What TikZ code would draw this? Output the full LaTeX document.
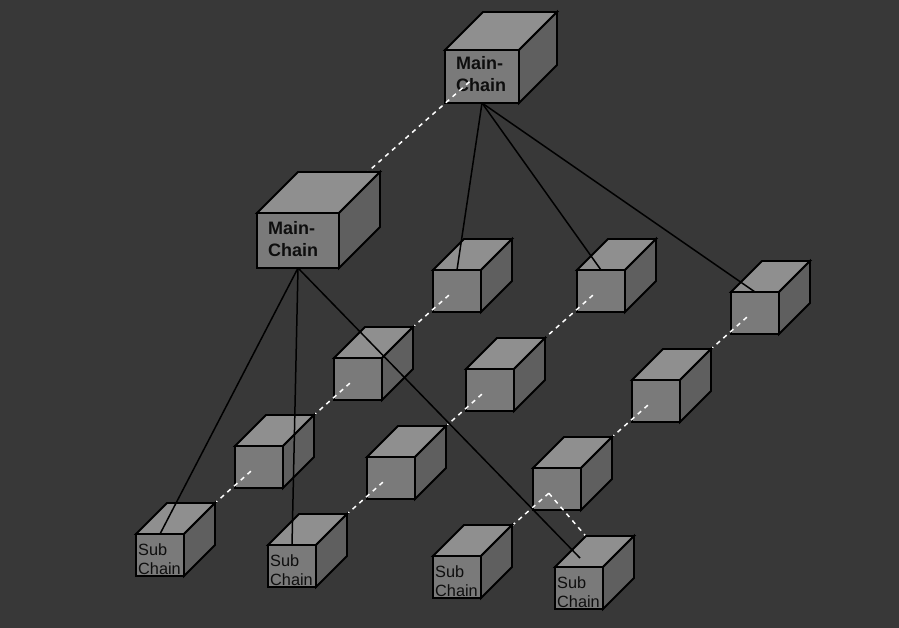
\documentclass[tikz,border=0pt]{standalone}
\usepackage{fontspec}
\setmainfont{Liberation Sans}
\usetikzlibrary{calc}
\definecolor{bgcol}{HTML}{383838}
\definecolor{frontcol}{HTML}{7A7A7A}
\definecolor{topcol}{HTML}{8F8F8F}
\definecolor{sidecol}{HTML}{5F5F5F}
\definecolor{inkcol}{HTML}{0E0E0E}
\tikzset{
  edge/.style={draw=black, line width=1.8pt, line join=miter},
  frontface/.style={edge, fill=frontcol, inner sep=0pt, outer sep=0pt, anchor=north west},
  topface/.style={edge, fill=topcol},
  sideface/.style={edge, fill=sidecol},
  mainlabel/.style={font=\fontsize{18}{22}\selectfont\bfseries, text=inkcol, align=left, inner sep=0pt, anchor=north west},
  sublabel/.style={font=\fontsize{16.3}{19}\selectfont, text=inkcol, align=left, inner sep=0pt, anchor=north west},
  chainlink/.style={draw=white, line width=1.5pt, dash pattern=on 4.5pt off 4.5pt},
  feed/.style={draw=black, line width=1.5pt},
  pics/cube/.style n args={3}{code={
    \path[topface] (0,0) -- (#3,-#3) -- (#1+#3,-#3) -- (#1,0) -- cycle;
    \path[sideface] (#1,0) -- (#1+#3,-#3) -- (#1+#3,#2-#3) -- (#1,#2) -- cycle;
    \node[frontface, minimum width=#1pt, minimum height=#2pt] (-front) at (0,0) {};
  }}
}
\begin{document}
\begin{tikzpicture}[x=1pt, y=-1pt]
\fill[bgcol] (0,0) rectangle (899,628);
\useasboundingbox (0,0) rectangle (899,628);
% points where the dashed chain lines leave each block
\foreach \n/\x/\y/\w/\h in {M1/445/50/74/53, M2/257/213/82/55,
    A1/433/270/48/42, A2/577/270/48/42, A3/731/292/48/42,
    B1/334/358/48/42, B2/466/369/48/42, B3/632/380/48/42,
    C1/235/446/48/42, C2/367/457/48/42, C3/533/468/48/42,
    D1/136/534/48/42, D2/268/545/48/42, D3/433/556/48/42, D4/555/567/48/42}
  \coordinate (\n-dot) at (\x+0.33*\w, \y+0.6*\h);
\coordinate (D4-in) at (590,541);

% main chain
\pic (M1) at (445,50) {cube={74}{53}{38}};
\node[mainlabel] (M1-text) at ([shift={(11,6.5)}]M1-front.north west) {Main-\\Chain};
\draw[chainlink] (M1-dot) -- (M2-dot);
\pic (M2) at (257,213) {cube={82}{55}{41}};
\node[mainlabel] (M2-text) at ([shift={(11,8)}]M2-front.north west) {Main-\\Chain};

% first row of blocks
\pic (A1) at (433,270) {cube={48}{42}{31}};
\pic (A2) at (577,270) {cube={48}{42}{31}};
\pic (A3) at (731,292) {cube={48}{42}{31}};
\draw[chainlink] (A1-dot) -- (B1-dot);
\draw[chainlink] (A2-dot) -- (B2-dot);
\draw[chainlink] (A3-dot) -- (B3-dot);

% second row
\pic (B1) at (334,358) {cube={48}{42}{31}};
\pic (B2) at (466,369) {cube={48}{42}{31}};
\pic (B3) at (632,380) {cube={48}{42}{31}};
\draw[chainlink] (B1-dot) -- (C1-dot);
\draw[chainlink] (B2-dot) -- (C2-dot);
\draw[chainlink] (B3-dot) -- (C3-dot);

% third row
\pic (C1) at (235,446) {cube={48}{42}{31}};
\pic (C2) at (367,457) {cube={48}{42}{31}};
\pic (C3) at (533,468) {cube={48}{42}{31}};
\draw[chainlink] (C1-dot) -- (D1-dot);
\draw[chainlink] (C2-dot) -- (D2-dot);
\draw[chainlink] (C3-dot) -- (D3-dot);
\draw[chainlink] (C3-dot) -- (D4-in);

% sub chains
\pic (D1) at (136,534) {cube={48}{42}{31}};
\pic (D2) at (268,545) {cube={48}{42}{31}};
\pic (D3) at (433,556) {cube={48}{42}{31}};
\pic (D4) at (555,567) {cube={48}{42}{31}};
\node[sublabel] (D1-text) at ([shift={(2,9.5)}]D1-front.north west) {Sub\\Chain};
\node[sublabel] (D2-text) at ([shift={(2,9.5)}]D2-front.north west) {Sub\\Chain};
\node[sublabel] (D3-text) at ([shift={(2,9.5)}]D3-front.north west) {Sub\\Chain};
\node[sublabel] (D4-text) at ([shift={(2,9.5)}]D4-front.north west) {Sub\\Chain};

% links from the main chain blocks
\draw[feed] (M1-front.south) -- (A1-front.north);
\draw[feed] (M1-front.south) -- (A2-front.north);
\draw[feed] (M1-front.south) -- (A3-front.north);
\draw[feed] (M2-front.south) -- (D1-front.north);
\draw[feed] (M2-front.south) -- (D2-front.north);
\draw[feed] (M2-front.south) -- ([shift={(1,-9)}]D4-front.north);
\end{tikzpicture}
\end{document}
